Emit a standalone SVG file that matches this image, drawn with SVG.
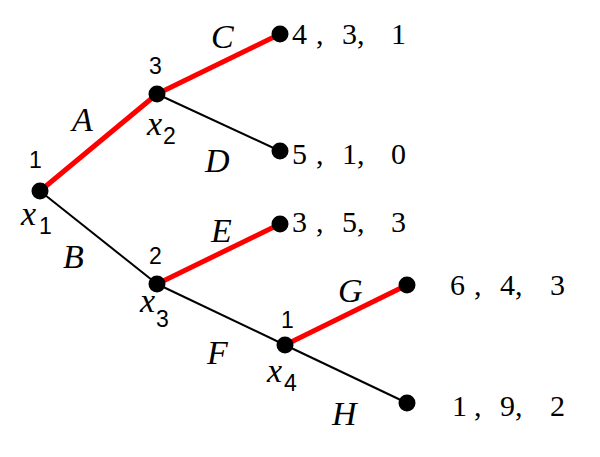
<svg xmlns="http://www.w3.org/2000/svg" width="600" height="457" viewBox="0 0 600 457">
<defs>
<style>
.red{stroke:#ff0000;stroke-width:5;fill:none}
.blk{stroke:#000;stroke-width:2;fill:none}
.dot{fill:#000}
</style>
</defs>
<g id="connectors">
<line class="red" x1="40" y1="191" x2="157" y2="94"/>
<line class="blk" x1="40" y1="191" x2="157" y2="284"/>
<line class="red" x1="157" y1="94" x2="280" y2="34"/>
<line class="blk" x1="157" y1="94" x2="280" y2="151"/>
<line class="red" x1="157" y1="284" x2="280" y2="224"/>
<line class="blk" x1="157" y1="284" x2="285" y2="345"/>
<line class="red" x1="285" y1="345" x2="407" y2="285"/>
<line class="blk" x1="285" y1="345" x2="407" y2="403"/>
<g font-family="'Liberation Serif', 'Times New Roman', serif" font-style="italic" font-size="34">
<text x="72" y="131">A</text>
<text x="63" y="268">B</text>
<text x="211" y="48">C</text>
<text x="205" y="172">D</text>
<text x="211" y="242">E</text>
<text x="207" y="364">F</text>
<text x="338" y="302">G</text>
<text x="332" y="425">H</text>
</g>
</g>
<g font-family="'Liberation Sans', Arial, sans-serif" font-size="23" text-anchor="start">
<g id="x1">
<circle class="dot" cx="40" cy="191" r="8.5"/>
<text x="29" y="168">1</text>
<text x="21" y="225" font-family="'Liberation Serif', 'Times New Roman', serif" font-style="italic" font-size="34">x</text><text x="39" y="234">1</text>
</g>
<g id="x2">
<circle class="dot" cx="157" cy="94" r="8.5"/>
<text x="149" y="74">3</text>
<text x="147" y="135" font-family="'Liberation Serif', 'Times New Roman', serif" font-style="italic" font-size="34">x</text><text x="163" y="144">2</text>
</g>
<g id="x3">
<circle class="dot" cx="157" cy="284" r="8.5"/>
<text x="149" y="264">2</text>
<text x="140" y="312" font-family="'Liberation Serif', 'Times New Roman', serif" font-style="italic" font-size="34">x</text><text x="156" y="327">3</text>
</g>
<g id="x4">
<circle class="dot" cx="285" cy="345" r="8.5"/>
<text x="281" y="328">1</text>
<text x="267" y="382" font-family="'Liberation Serif', 'Times New Roman', serif" font-style="italic" font-size="34">x</text><text x="284" y="391">4</text>
</g>
</g>
<g font-family="'Liberation Serif', 'Times New Roman', serif" font-size="30">
<g id="leafC">
<circle class="dot" cx="280" cy="34" r="8.5"/>
<text y="44"><tspan x="292">4</tspan><tspan x="316">,</tspan><tspan x="342">3,</tspan><tspan x="391">1</tspan></text>
</g>
<g id="leafD">
<circle class="dot" cx="280" cy="151" r="8.5"/>
<text y="164"><tspan x="292">5</tspan><tspan x="316">,</tspan><tspan x="342">1,</tspan><tspan x="391">0</tspan></text>
</g>
<g id="leafE">
<circle class="dot" cx="280" cy="224" r="8.5"/>
<text y="232"><tspan x="292">3</tspan><tspan x="316">,</tspan><tspan x="342">5,</tspan><tspan x="391">3</tspan></text>
</g>
<g id="leafG">
<circle class="dot" cx="407" cy="285" r="8.5"/>
<text y="295"><tspan x="450">6</tspan><tspan x="474">,</tspan><tspan x="500">4,</tspan><tspan x="550">3</tspan></text>
</g>
<g id="leafH">
<circle class="dot" cx="407" cy="403" r="8.5"/>
<text y="416"><tspan x="452">1</tspan><tspan x="474">,</tspan><tspan x="500">9,</tspan><tspan x="550">2</tspan></text>
</g>
</g>
</svg>
